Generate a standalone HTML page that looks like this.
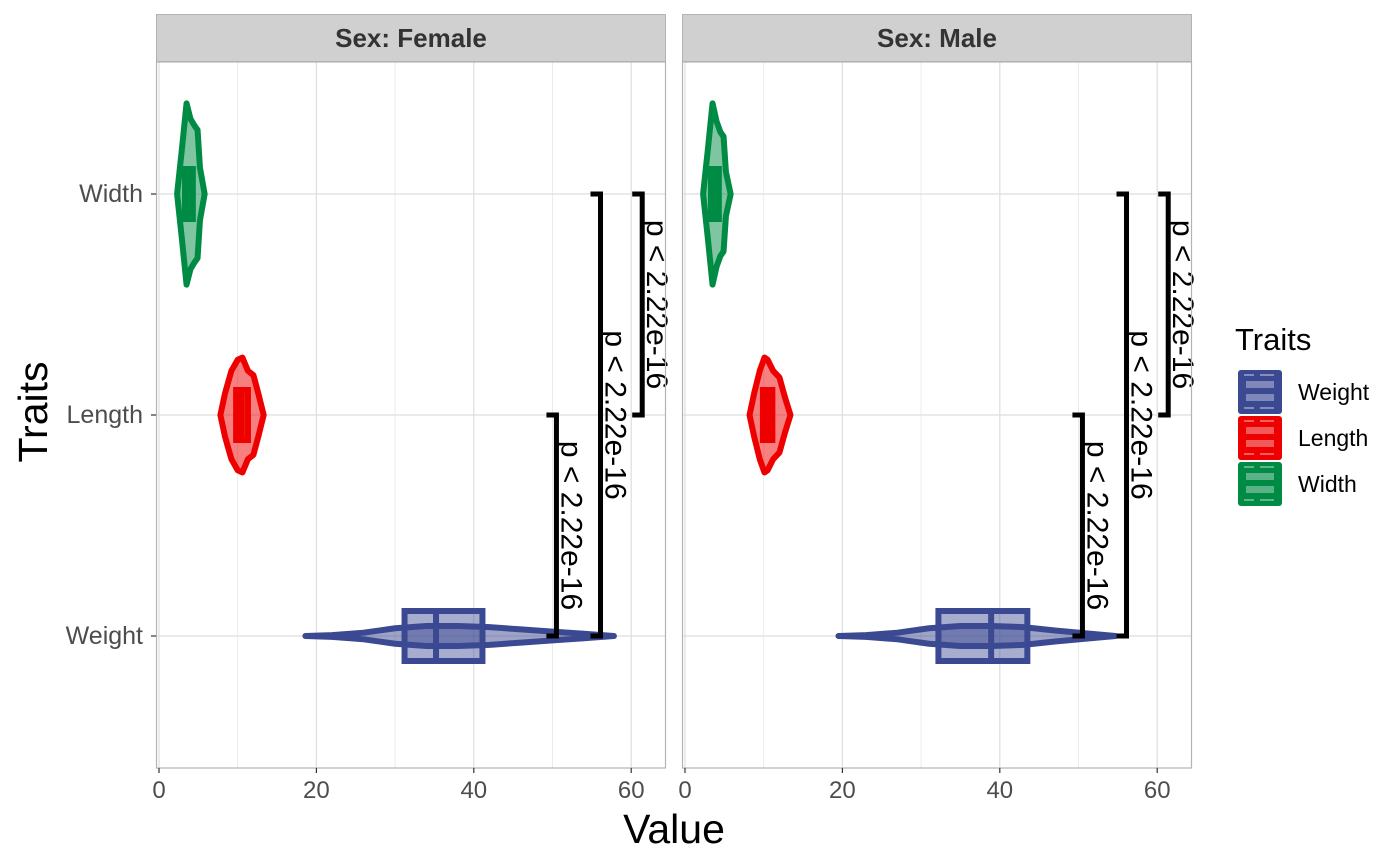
<!DOCTYPE html>
<html><head><meta charset="utf-8">
<style>
body{margin:0;background:#fff;}
svg{display:block;font-family:"Liberation Sans",Arial,sans-serif;}
</style></head>
<body>
<svg id="chart" width="1400" height="866"></svg>
<script>
const traits = ["Weight","Length","Width"];
const colors = ["#3B4992","#EE0000","#008B45"];
const panels = ["Sex: Female","Sex: Male"];
const xTicks = [0,20,40,60];
// box stats per panel per trait: [q1, median, q3]
const boxFemale = [[31.2,35.2,41.1],[9.8,10.5,11.3],[3.3,3.8,4.3]];
const boxMale = [[32.2,38.9,43.5],[9.9,10.5,11.1],[3.3,3.8,4.3]];
// violin profiles: values and half-widths (category units)
const vWeightF = [18.6,22,26,30,34,38,42,46,50,54,57.8];
const dWeightF = [0.0,0.004,0.015,0.035,0.045,0.045,0.04,0.03,0.02,0.01,0.0];
const vWeightM = [19.5,23,27,31,35,39,43,47,51,54.7];
const dWeightM = [0.0,0.004,0.015,0.035,0.045,0.045,0.04,0.025,0.012,0.0];
const vLengthF = [7.8,8.4,9.2,10,10.6,11.3,12,12.6,13.3];
const dLengthF = [0.0,0.1,0.2,0.25,0.26,0.2,0.18,0.1,0.0];
const vLengthM = [8.2,8.8,9.5,10.1,10.5,11.2,12,12.7,13.4];
const dLengthM = [0.0,0.1,0.2,0.26,0.25,0.2,0.17,0.08,0.0];
const vWidthF = [2.3,2.9,3.5,4.0,4.5,4.9,5.2,5.8];
const dWidthF = [0.0,0.2,0.41,0.34,0.31,0.29,0.12,0.0];
const vWidthM = [2.3,2.9,3.5,4.0,4.5,4.9,5.2,5.8];
const dWidthM = [0.0,0.2,0.41,0.33,0.28,0.26,0.1,0.0];
// brackets: [fromCat, toCat, x value]
const brackets = [[1,0,50.5],[2,0,56.1],[2,1,61.4]];
const pLabel = "p < 2.22e-16";

const NS="http://www.w3.org/2000/svg";
const svg=document.getElementById('chart');
function el(t,a,p){const e=document.createElementNS(NS,t);for(const k in a)e.setAttribute(k,a[k]);(p||svg).appendChild(e);return e;}
const panelX=[156,682], PW=510, PT=62, PB=768;
const catY=[636,415,194], band=221;
function yScale(c,off){return catY[c]-off*band;}
const boxes=[boxFemale,boxMale];
const vio=[[[vWeightF,dWeightF],[vLengthF,dLengthF],[vWidthF,dWidthF]],[[vWeightM,dWeightM],[vLengthM,dLengthM],[vWidthM,dWidthM]]];

panels.forEach((pn,pi)=>{
  const x0=panelX[pi];
  const xs=v=>x0+3+v*7.87;
  const g=el('g',{});
  
  
  el('rect',{x:x0,y:PT,width:PW,height:PB-PT,fill:'#fff'},g);
  [10,30,50].forEach(v=>el('line',{x1:xs(v),x2:xs(v),y1:PT,y2:PB,stroke:'#ebebeb','stroke-width':1},g));
  xTicks.forEach(v=>el('line',{x1:xs(v),x2:xs(v),y1:PT,y2:PB,stroke:'#dedede','stroke-width':1.2},g));
  catY.forEach(y=>el('line',{x1:x0,x2:x0+PW,y1:y,y2:y,stroke:'#dedede','stroke-width':1.2},g));
  traits.forEach((t,c)=>{
    const [vs,ds]=vio[pi][c];
    let pts=vs.map((v,i)=>xs(v)+','+yScale(c,ds[i]));
    pts=pts.concat(vs.slice().reverse().map((v,i)=>xs(v)+','+yScale(c,-ds[vs.length-1-i])));
    const p=el('polygon',{points:pts.join(' '),fill:colors[c],'fill-opacity':0.5,stroke:colors[c],'stroke-width':6,'stroke-linejoin':'round'},g);
    
    
    const b=boxes[pi][c];
    const r=el('rect',{x:xs(b[0]),y:catY[c]-25,width:xs(b[2])-xs(b[0]),height:50,fill:colors[c],'fill-opacity':0.45,stroke:colors[c],'stroke-width':6},g);
    
    
    el('line',{x1:xs(b[1]),x2:xs(b[1]),y1:catY[c]-25,y2:catY[c]+25,stroke:colors[c],'stroke-width':6},g);
  });
  brackets.forEach((br,bi)=>{
    const xb=xs(br[2]), ya=catY[br[0]], yb=catY[br[1]];
    const pth=el('path',{d:`M${xb-10},${ya} H${xb} V${yb} H${xb-10}`,fill:'none',stroke:'#000','stroke-width':5,'stroke-linejoin':'miter'},g);
    
    
    const tx=el('text',{x:0,y:0,'font-size':30,'text-anchor':'middle',transform:`translate(${xb+5},${(ya+yb)/2}) rotate(90)`},g);
    tx.textContent=pLabel;
    
    
  });
  el('rect',{x:x0+0.5,y:PT,width:PW-1,height:PB-PT,fill:'none',stroke:'#b3b3b3','stroke-width':1.2},g);
  el('rect',{x:x0+0.5,y:14.5,width:PW-1,height:47,fill:'#d0d0d0',stroke:'#b3b3b3','stroke-width':1},g);
  const st=el('text',{x:x0+PW/2,y:47,'font-size':26,'font-weight':'bold',fill:'#333','text-anchor':'middle'},g);
  st.textContent=pn;
  
  
  xTicks.forEach(v=>{
    el('line',{x1:xs(v),x2:xs(v),y1:PB,y2:PB+5,stroke:'#333','stroke-width':1.2},g);
    const t=el('text',{x:xs(v),y:PB+30,'font-size':24,fill:'#4d4d4d','text-anchor':'middle'},g);
    t.textContent=v;
    
    
  });
});
traits.forEach((t,c)=>{
  el('line',{x1:151,x2:156,y1:catY[c],y2:catY[c],stroke:'#333','stroke-width':1.2});
  const tx=el('text',{x:143,y:catY[c]+8,'font-size':25,fill:'#4d4d4d','text-anchor':'end'});
  tx.textContent=t;
  
  
});
const xt=el('text',{x:674,y:843,'font-size':41,'text-anchor':'middle'});xt.textContent='Value';


const yt=el('text',{x:0,y:0,'font-size':41,'text-anchor':'middle',transform:'translate(47,412) rotate(-90)'});yt.textContent='Traits';


const lg=el('g',{});


const lt=el('text',{x:1235,y:350,'font-size':31},lg);lt.textContent='Traits';
traits.forEach((t,i)=>{
  const y=370+i*46;
  const r=el('rect',{x:1238,y:y,width:44,height:44,rx:3,fill:colors[i]},lg);
  
  
  el('rect',{x:1246,y:y+11,width:28,height:7,fill:'#fff','fill-opacity':0.35},lg);
  el('rect',{x:1246,y:y+24,width:28,height:7,fill:'#fff','fill-opacity':0.35},lg);
  el('path',{d:`M1244,${y+5}h10m6,0h14M1244,${y+38}h10m6,0h14`,stroke:'#fff','stroke-opacity':0.5,'stroke-width':1.5},lg);
  const tx=el('text',{x:1298,y:y+30,'font-size':23},lg);tx.textContent=t;
  
  
});
</script>
</body></html>
